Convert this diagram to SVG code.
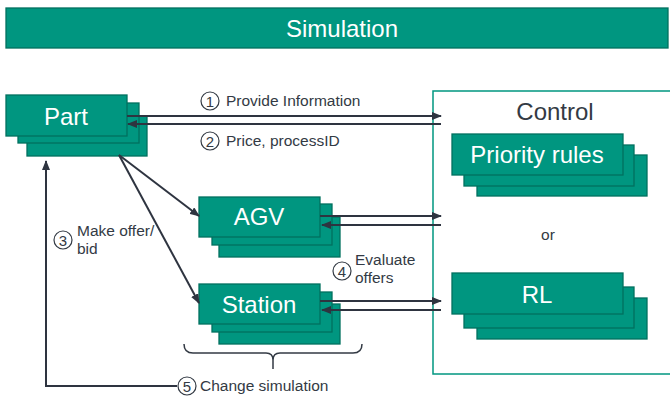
<svg xmlns="http://www.w3.org/2000/svg" width="670" height="399" viewBox="0 0 670 399">
<defs>
<style>
.box{fill:#009680;stroke:#00705f;stroke-width:1.3}
.nt{font-family:"Liberation Sans",Arial,sans-serif;font-size:24px;fill:#ffffff;text-anchor:middle}
.lbl{font-family:"Liberation Sans",Arial,sans-serif;font-size:15.5px;fill:#333a44}
.num{font-family:"Liberation Sans",Arial,sans-serif;font-size:15px;fill:#333a44;text-anchor:middle}
.circ{fill:#ffffff;stroke:#333a44;stroke-width:1.2}
.ln{fill:none;stroke:#2e3440;stroke-width:2}
</style>
<marker id="ah" markerWidth="10" markerHeight="8" refX="9" refY="4" orient="auto" markerUnits="userSpaceOnUse">
<path d="M0,0 L10,4 L0,8 Z" fill="#2e3440"/>
</marker>
</defs>

<g id="title">
<rect x="6" y="8" width="662" height="40" class="box"/>
<text x="342" y="37" class="nt">Simulation</text>
</g>

<g id="control">
<rect x="433" y="91" width="250" height="283" fill="none" stroke="#009680" stroke-width="1.5"/>
<text x="555" y="120" font-family="'Liberation Sans',Arial,sans-serif" font-size="24" fill="#333a44" text-anchor="middle">Control</text>
<text x="548" y="240" font-family="'Liberation Sans',Arial,sans-serif" font-size="15.5" fill="#333a44" text-anchor="middle">or</text>
</g>

<g id="part">
<rect x="27" y="116" width="120" height="40" class="box"/>
<rect x="18" y="103" width="121" height="40" class="box"/>
<rect x="6" y="95" width="121" height="41" class="box"/>
<text x="66" y="125" class="nt">Part</text>
</g>

<g id="agv">
<rect x="219" y="217" width="121" height="40" class="box"/>
<rect x="212" y="204" width="120" height="41" class="box"/>
<rect x="199" y="197" width="121" height="40" class="box"/>
<text x="259" y="225" class="nt">AGV</text>
</g>

<g id="station">
<rect x="219" y="304" width="121" height="40" class="box"/>
<rect x="212" y="292" width="120" height="40" class="box"/>
<rect x="199" y="284" width="121" height="40" class="box"/>
<text x="259" y="313" class="nt">Station</text>
</g>

<g id="priority">
<rect x="477" y="155" width="170" height="41" class="box"/>
<rect x="464" y="145" width="170" height="41" class="box"/>
<rect x="452" y="134" width="171" height="41" class="box"/>
<text x="537" y="163" class="nt">Priority rules</text>
</g>

<g id="rl">
<rect x="477" y="298" width="170" height="41" class="box"/>
<rect x="464" y="287" width="170" height="41" class="box"/>
<rect x="452" y="273" width="171" height="41" class="box"/>
<text x="537" y="303" class="nt">RL</text>
</g>

<g id="connectors">
<line x1="127" y1="116" x2="441" y2="116" class="ln" marker-end="url(#ah)"/>
<line x1="441" y1="124" x2="128" y2="124" class="ln" marker-end="url(#ah)"/>
<line x1="320" y1="216" x2="441" y2="216" class="ln" marker-end="url(#ah)"/>
<line x1="441" y1="225" x2="322" y2="225" class="ln" marker-end="url(#ah)"/>
<line x1="320" y1="301" x2="441" y2="301" class="ln" marker-end="url(#ah)"/>
<line x1="441" y1="310" x2="322" y2="310" class="ln" marker-end="url(#ah)"/>
<line x1="119" y1="155" x2="199" y2="216" class="ln" marker-end="url(#ah)"/>
<line x1="119" y1="155" x2="199" y2="303" class="ln" marker-end="url(#ah)"/>
<path d="M177,386 L46,386 L46,161" class="ln" marker-end="url(#ah)"/>
<path d="M184,344 Q184,353 193,353 L266,353 Q273,353 273,360 L273,369 M273,360 Q273,353 280,353 L353,353 Q362,353 362,344" fill="none" stroke="#333a44" stroke-width="1.5"/>
</g>

<g id="labels">
<circle cx="210" cy="101" r="9" class="circ"/>
<text x="210" y="106.5" class="num">1</text>
<text x="226" y="106" class="lbl">Provide Information</text>
<circle cx="210" cy="141" r="9" class="circ"/>
<text x="210" y="146.5" class="num">2</text>
<text x="226" y="146" class="lbl">Price, processID</text>
<circle cx="63" cy="240" r="9" class="circ"/>
<text x="63" y="245.5" class="num">3</text>
<text x="77" y="236" class="lbl">Make offer/</text>
<text x="77" y="254" class="lbl">bid</text>
<circle cx="342" cy="271" r="9" class="circ"/>
<text x="342" y="276.5" class="num">4</text>
<text x="355" y="265" class="lbl">Evaluate</text>
<text x="355" y="283" class="lbl">offers</text>
<circle cx="187" cy="386" r="9" class="circ"/>
<text x="187" y="391.5" class="num">5</text>
<text x="200" y="391" class="lbl">Change simulation</text>
</g>
</svg>
